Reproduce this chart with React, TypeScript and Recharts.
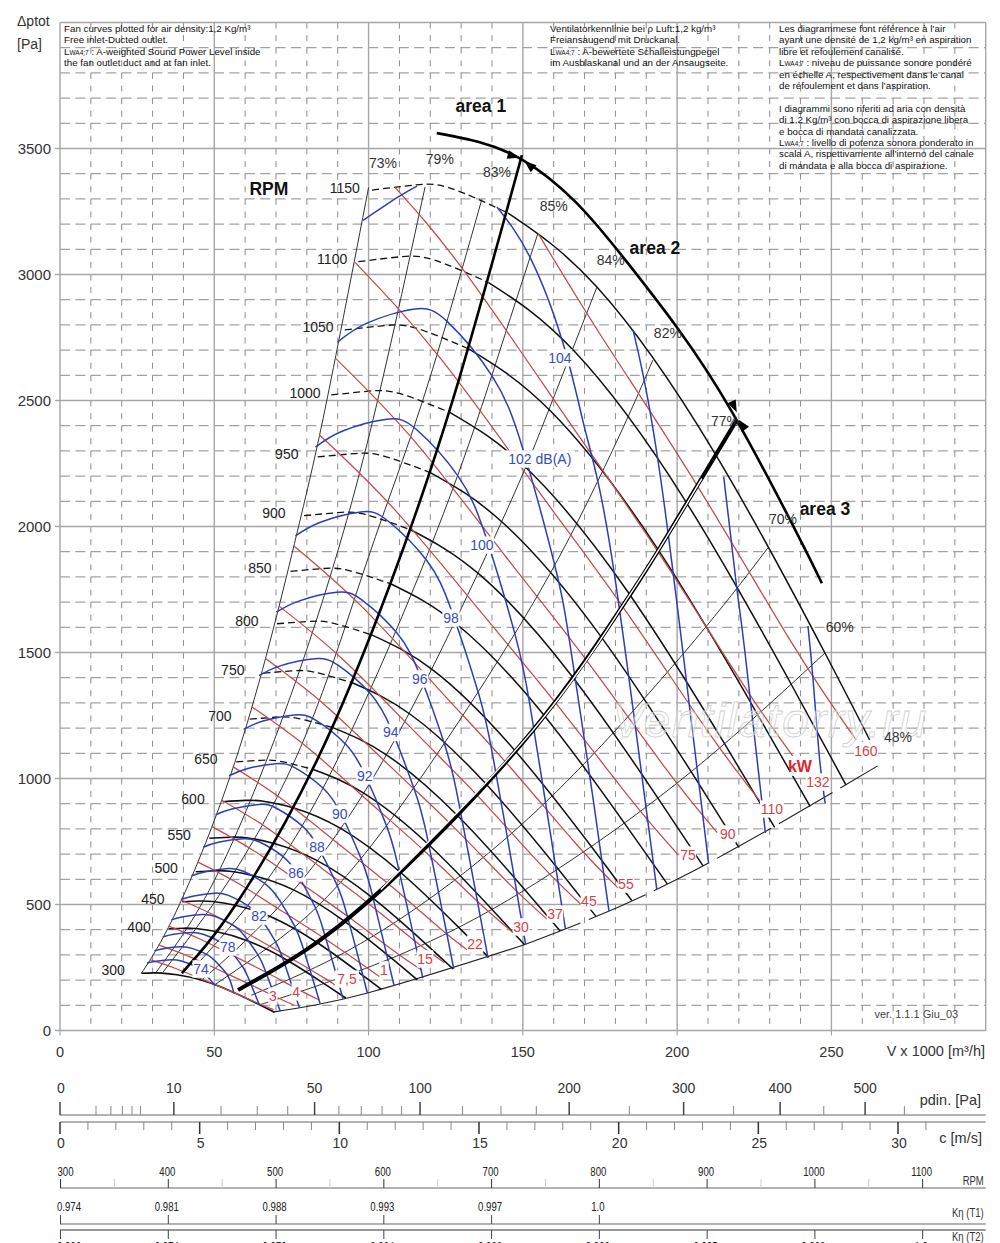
import React from 'react';
import { ComposedChart, LineChart, Line, Scatter, XAxis, YAxis, CartesianGrid } from 'recharts';

type Pt = number[];
const FONT = '"Liberation Sans", Arial, sans-serif';

// ---------- axis values ----------
const flowTicks = [0, 50, 100, 150, 200, 250];
const flowMajor = [50, 100, 150, 200, 250, 300];
const flowMinor = [10, 20, 30, 40, 60, 70, 80, 90, 110, 120, 130, 140, 160, 170, 180, 190, 210, 220, 230, 240, 260, 270, 280, 290];
const pressTicks = [0, 500, 1000, 1500, 2000, 2500, 3000, 3500];
const pressMajor = [500, 1000, 1500, 2000, 2500, 3000, 3500, 4000];
const pressMinor = [100, 200, 300, 400, 600, 700, 800, 900, 1100, 1200, 1300, 1400, 1600, 1700, 1800, 1900, 2100, 2200, 2300, 2400, 2600, 2700, 2800, 2900, 3100, 3200, 3300, 3400, 3600, 3700, 3800, 3900];

const pdinTicks = [0, 1, 2, 3, 4, 5, 10, 20, 30, 40, 50, 60, 70, 80, 90, 100, 125, 150, 175, 200, 250, 300, 350, 400, 450, 500, 550];
const pdinLabelled = [0, 10, 50, 100, 200, 300, 400, 500];
const speedTicks = [0, 1, 2, 3, 4, 5, 6, 7, 8, 9, 10, 11, 12, 13, 14, 15, 16, 17, 18, 19, 20, 21, 22, 23, 24, 25, 26, 27, 28, 29, 30, 31];
const speedLabelled = [0, 5, 10, 15, 20, 25, 30];
const rpmScaleTicks = [300, 350, 400, 450, 500, 550, 600, 650, 700, 750, 800, 850, 900, 950, 1000, 1050, 1100];
const rpmScaleLabelled = [300, 400, 500, 600, 700, 800, 900, 1000, 1100];
const t1Rpm = [300, 400, 500, 600, 700, 800];
const t1Labels = ['0.974', '0.981', '0.988', '0.993', '0.997', '1.0'];
const t2Rpm = [300, 400, 500, 600, 700, 800, 900, 1000, 1100];
const t2Labels = ['0.966', '0.974', '0.979', '0.984', '0.988', '0.992', '0.995', '0.998', '1.0'];

// ---------- fan speed curves: the first four points are the dashed stall side ----------
const rpm300: Pt[] = [[26.4, 227], [30, 228.5], [33, 227.7], [37.9, 221], [45.4, 201], [55.2, 157], [64.7, 102], [69.5, 72.6]];
const rpm400: Pt[] = [[35.2, 404], [40, 406], [44, 404.5], [50.5, 392.5], [60.5, 357], [73.6, 279], [86.2, 181], [92.6, 129]];
const rpm450: Pt[] = [[39.6, 511], [45, 514], [49.5, 512], [56.8, 497], [68.1, 452], [82.8, 353], [97, 229], [104.2, 163]];
const rpm500: Pt[] = [[44, 630], [50, 634], [55, 632], [63.1, 613], [75.7, 558], [92, 435], [107.8, 283], [115.8, 201]];
const rpm550: Pt[] = [[48.4, 763], [55, 767], [60.5, 765], [69.4, 742], [83.2, 675], [101.2, 527], [118.6, 343], [127.4, 244]];
const rpm600: Pt[] = [[52.7, 908], [60, 913], [65.9, 910], [75.8, 883], [90.8, 803], [110.4, 627], [129.3, 408], [138.9, 290]];
const rpm650: Pt[] = [[57.1, 1066], [65, 1072], [71.4, 1068], [82.1, 1036], [98.3, 943], [119.6, 736], [140.1, 479], [150.5, 341]];
const rpm700: Pt[] = [[61.5, 1236], [70, 1243], [76.9, 1239], [88.4, 1202], [105.9, 1093], [128.8, 853], [150.9, 555], [162.1, 395]];
const rpm750: Pt[] = [[65.9, 1418], [75, 1427], [82.4, 1422], [94.7, 1380], [113.5, 1255], [138, 979], [161.7, 637], [173.7, 453]];
const rpm800: Pt[] = [[70.3, 1614], [80, 1623], [87.9, 1618], [101, 1570], [121.1, 1428], [147.2, 1114], [172.5, 725], [185.3, 516]];
const rpm850: Pt[] = [[74.7, 1822], [85, 1833], [93.4, 1826], [107.3, 1772], [128.6, 1612], [156.4, 1258], [183.2, 818], [196.8, 582]];
const rpm900: Pt[] = [[79.1, 2043], [90, 2055], [98.9, 2048], [113.6, 1987], [136.2, 1807], [165.6, 1411], [194, 918], [208.4, 653]];
const rpm950: Pt[] = [[83.5, 2276], [95, 2289], [104.4, 2281], [120, 2214], [143.7, 2013], [174.8, 1572], [204.8, 1022], [220, 727]];
const rpm1000: Pt[] = [[87.9, 2522], [100, 2537], [109.9, 2528], [126.3, 2453], [151.3, 2230], [184, 1741], [215.6, 1133], [231.6, 806]];
const rpm1050: Pt[] = [[92.3, 2780], [105, 2797], [115.4, 2787], [132.6, 2704], [158.9, 2459], [193.2, 1920], [226.3, 1249], [243.1, 889]];
const rpm1100: Pt[] = [[96.7, 3051], [110, 3070], [120.9, 3059], [138.9, 2968], [166.4, 2699], [202.4, 2107], [237.1, 1371], [254.7, 975]];
const rpm1150: Pt[] = [[101.1, 3335], [115, 3355], [126.4, 3343], [145.2, 3244], [174, 2950], [211.6, 2303], [247.9, 1498], [262.4, 1153]];
const solidRpm = [rpm300, rpm400, rpm450, rpm500, rpm550, rpm600];
const stallRpm = [rpm650, rpm700, rpm750, rpm800, rpm850, rpm900, rpm950, rpm1000, rpm1050, rpm1100, rpm1150];

// ---------- power curves (kW) ----------
const kw160: Pt[] = [[154.9, 3164], [175.5, 2754], [206.2, 2168], [237.6, 1529], [258, 1153]];
const kw132: Pt[] = [[108.5, 3347], [131.2, 3010], [164.6, 2422], [193.4, 1907], [222.9, 1345], [242, 1014]];
const kw110: Pt[] = [[95.6, 3048], [123.5, 2664], [154.9, 2143], [182, 1688], [209.8, 1190], [227.7, 897]];
const kw90: Pt[] = [[89.4, 2666], [115.5, 2330], [144.8, 1875], [170.2, 1476], [196.2, 1041], [213, 785]];
const kw75: Pt[] = [[84.1, 2363], [108.6, 2065], [136.3, 1662], [160.1, 1308], [184.6, 923], [200.4, 696]];
const kw55: Pt[] = [[75.9, 1922], [98, 1680], [123, 1351], [144.5, 1064], [166.5, 751], [180.8, 566]];
const kw45: Pt[] = [[71, 1684], [91.7, 1472], [115.1, 1184], [135.2, 933], [155.8, 658], [169.2, 496]];
const kw37: Pt[] = [[66.5, 1477], [85.9, 1291], [107.8, 1039], [126.7, 818], [146, 577], [158.5, 435]];
const kw30: Pt[] = [[62.1, 1285], [80.2, 1123], [100.6, 903], [118.2, 711], [136.2, 502], [147.9, 378]];
const kw22: Pt[] = [[56, 1047], [72.3, 915], [90.7, 736], [106.6, 580], [122.8, 409], [133.3, 308]];
const kw18: Pt[] = [[52.3, 915], [67.6, 800], [84.8, 644], [99.6, 507], [114.8, 357], [124.6, 269]];
const kw15: Pt[] = [[49.3, 809], [63.6, 707], [79.8, 569], [93.8, 448], [108.1, 316], [117.4, 238]];
const kw11: Pt[] = [[44.7, 668], [57.7, 584], [72.4, 470], [85.1, 370], [98.1, 261], [103.7, 212]];
const kw75s: Pt[] = [[39.4, 517], [50.9, 452], [63.9, 363], [75, 286], [86.5, 202], [89, 180]];
const kw55s: Pt[] = [[35.2, 414], [45.5, 362], [57.1, 291], [67.1, 229], [77.3, 162], [83.9, 122]];
const kw4: Pt[] = [[31.9, 340], [41.2, 297], [51.7, 239], [60.7, 188], [70, 133], [76, 100]];
const kw3: Pt[] = [[29.1, 281], [37.5, 246], [47.1, 198], [55.3, 156], [63.7, 110], [69.2, 83]];
const redCurves = [kw160, kw132, kw110, kw90, kw75, kw55, kw45, kw37, kw30, kw22, kw18, kw15, kw11, kw75s, kw55s, kw4, kw3];

// ---------- sound power curves (dB(A)) ----------
const db110: Pt[] = [[242.4, 1605], [244, 1400], [246.2, 1073], [248, 900]];
const db108: Pt[] = [[215.1, 2197], [219.3, 1759], [222, 1499], [228.6, 784]];
const db106: Pt[] = [[185.7, 2780], [189.1, 2594], [195.4, 2126], [204.2, 1267], [210.2, 663]];
const db104a: Pt[] = [[98.2, 3215], [109.5, 3307], [115.7, 3351]];
const db104b: Pt[] = [[141.6, 3268], [152.3, 3069], [163, 2728], [169.4, 2422], [174, 2196], [179.8, 1800], [187.9, 1073], [193.4, 561]];
const db102: Pt[] = [[90, 2732], [99.5, 2807], [115, 2863], [125.7, 2811], [140.1, 2596], [150, 2308], [160.1, 1858], [165.4, 1523], [172.9, 908], [177.9, 475]];
const db100: Pt[] = [[82.8, 2315], [91.6, 2379], [105.9, 2426], [115.7, 2383], [129, 2200], [138.1, 1956], [147.4, 1575], [152.3, 1291], [159.1, 769], [163.8, 402]];
const db98: Pt[] = [[76.3, 1963], [84.4, 2017], [97.5, 2058], [106.5, 2020], [118.8, 1866], [127.1, 1659], [135.7, 1335], [140.2, 1094], [146.6, 652], [150.9, 341]];
const db96: Pt[] = [[70.1, 1660], [77.6, 1705], [89.6, 1739], [97.9, 1708], [109.2, 1577], [116.9, 1402], [124.8, 1129], [128.9, 925], [134.7, 551], [138.7, 288]];
const db94: Pt[] = [[64.5, 1408], [71.4, 1447], [82.5, 1475], [90.2, 1449], [100.5, 1338], [107.6, 1189], [114.8, 957], [118.7, 785], [124, 468], [127.6, 245]];
const db92: Pt[] = [[59.5, 1195], [65.8, 1228], [76, 1252], [83.1, 1230], [92.6, 1136], [99.1, 1009], [105.8, 813], [109.3, 666], [114.2, 397], [117.6, 208]];
const db90: Pt[] = [[54.8, 1011], [60.6, 1039], [70, 1059], [76.5, 1040], [85.3, 961], [91.3, 854], [97.4, 687], [100.7, 563], [105.2, 336], [108.3, 176]];
const db88: Pt[] = [[50.4, 856], [55.7, 879], [64.4, 897], [70.3, 881], [78.4, 813], [83.9, 723], [89.6, 582], [92.6, 477], [96.8, 284], [99.6, 149]];
const db86: Pt[] = [[46.4, 727], [51.3, 747], [59.3, 761], [64.7, 748], [72.2, 691], [77.3, 614], [82.5, 494], [85.2, 405], [89.1, 241], [91.7, 126]];
const db84: Pt[] = [[42.6, 614], [47.2, 630], [54.5, 643], [59.6, 631], [66.4, 583], [71.1, 518], [75.9, 417], [78.4, 342], [81.9, 204], [84.3, 107]];
const db82: Pt[] = [[39.2, 520], [43.4, 534], [50.1, 545], [54.8, 535], [61.1, 494], [65.4, 439], [69.8, 354], [72.1, 290], [75.3, 173], [77.6, 90]];
const db80: Pt[] = [[36.1, 439], [39.9, 451], [46.1, 460], [50.4, 452], [56.2, 417], [60.1, 371], [64.2, 299], [66.3, 245], [69.3, 146], [71.4, 76]];
const db78: Pt[] = [[33.3, 371], [36.8, 382], [42.5, 389], [46.4, 382], [51.8, 353], [55.4, 314], [59.2, 253], [61.1, 207], [63.9, 123], [64.5, 104]];
const db76: Pt[] = [[30.6, 316], [33.9, 325], [39.1, 332], [42.8, 326], [47.7, 301], [51, 267], [54.5, 215], [56.3, 150]];
const db74: Pt[] = [[28.2, 268], [31.2, 275], [36, 281], [39.3, 276], [43.9, 255], [46.9, 226], [50.3, 178]];
const blueCurves = [db110, db108, db106, db104a, db104b, db102, db100, db98, db96, db94, db92, db90, db88, db86, db84, db82, db80, db78, db76, db74];

// ---------- efficiency / system lines ----------
const eff73: Pt[] = [[26.4, 227], [38.9, 505], [59.3, 1165], [76.8, 1974], [86.5, 2502], [100, 3345]];
const eff79: Pt[] = [[31.2, 232], [50, 595], [70.3, 1180], [86.5, 1760], [101.4, 2422], [118.3, 3347]];
const eff83: Pt[] = [[33.4, 232], [55, 600], [79.4, 1165], [100, 1880], [117.6, 2502], [136.7, 3298]];
const eff85: Pt[] = [[45, 270], [65, 562], [90, 1077], [122.6, 1998], [142.6, 2700], [154.9, 3164]];
const eff84: Pt[] = [[46.3, 205], [59.3, 347], [81.6, 645], [111.1, 1212], [142.6, 2005], [157.1, 2422], [174, 2950]];
const eff82: Pt[] = [[50.2, 182], [70, 353], [100, 720], [142.6, 1480], [167.5, 2013], [183.6, 2422], [192.1, 2660]];
const eff70: Pt[] = [[62, 140], [90, 295], [120, 525], [150, 822], [179.2, 1180], [209, 1597], [229.4, 1915]];
const eff60: Pt[] = [[65, 103], [76.8, 150], [107.6, 288], [148, 538], [200, 982], [247.9, 1498]];
const effLines = [eff73, eff79, eff83, eff85, eff84, eff82, eff70, eff60];
const bound48a: Pt[] = [[69, 73], [100, 150], [150, 338]];
const bound48b: Pt[] = [[150, 338], [200, 600], [265, 1050]];

// ---------- area boundaries ----------
const area1: Pt[] = [[39.5, 228], [57.3, 506], [83.3, 1073], [106.9, 1768], [127.3, 2502], [149.7, 3474]];
const area2: Pt[] = [[57.7, 161], [80, 322], [110, 625], [153.3, 1192], [181.4, 1668], [193.4, 1895], [219.3, 2422]];
const area2Core: Pt[] = [[104, 560], [153.3, 1192], [181.4, 1668], [193.4, 1895], [208, 2190]];
const outer: Pt[] = [[122.1, 3561], [136, 3525], [150, 3454], [166.9, 3290], [183.7, 3050], [199.9, 2791], [218, 2450], [238.8, 1974], [246.9, 1775]];

// ---------- labels: [flow, pressure, text] ----------
const blueLabels: any[] = [[45.7, 244, '74'], [54.4, 331, '78'], [64.5, 454, '82'], [76.5, 625, '86'], [83.3, 728, '88'], [90.7, 859, '90'], [98.8, 1010, '92'], [107.2, 1183, '94'], [116.6, 1395, '96'], [126.7, 1637, '98'], [136.7, 1926, '100'], [155.5, 2268, '102 dB(A)'], [162, 2669, '104']];
const redLabels: any[] = [[69, 137, '3'], [76.5, 153, '4'], [93, 204, '7,5'], [105, 240, '1'], [118.3, 284, '15'], [134.5, 343, '22'], [149.4, 411, '30'], [160.4, 462, '37'], [171.4, 514, '45'], [183.4, 581, '55'], [203.5, 696, '75'], [216.4, 780, '90'], [230.7, 879, '110'], [245.6, 986, '132'], [261.2, 1110, '160']];
const rpmLabels: any[] = [[17.2, 240, '300'], [25.6, 410, '400'], [30.1, 521, '450'], [34.4, 644, '500'], [38.6, 775, '550'], [43.1, 918, '600'], [47.3, 1077, '650'], [51.8, 1247, '700'], [56, 1430, '750'], [60.6, 1625, '800'], [64.8, 1835, '850'], [69.3, 2054, '900'], [73.5, 2288, '950'], [79.4, 2530, '1000'], [83.6, 2792, '1050'], [88.2, 3062, '1100'], [92.3, 3343, '1150']];
const effLabels: any[] = [[104.7, 3442, '73%'], [123.1, 3458, '79%'], [141.6, 3406, '83%'], [160, 3272, '85%'], [178.5, 3057, '84%'], [197, 2768, '82%'], [215.5, 2419, '77%'], [234.3, 2030, '70%'], [252.7, 1601, '60%'], [271.6, 1165, '48%']];
const boldLabels: any[] = [[136.4, 3668, 'area 1'], [192.8, 3105, 'area 2'], [247.9, 2069, 'area 3'], [67.7, 3339, 'RPM']];
const kwLabel: any[] = [[239.8, 1050, 'kW']];
const verLabel: any[] = [[277.5, 67, 'ver. 1.1.1 Giu_03']];
const markLabel: any[] = [[230, 1233, 'Ventilatorry.ru']];
// arrowheads: [flow, pressure, pointing angle]
const arrows: any[] = [[147, 3470, 15], [152, 3435, 220], [218.5, 2475, 65], [221, 2405, 235]];

// ---------- note blocks ----------
const noteEn = ['Fan curves plotted for air density:1,2 Kg/m³', 'Free inlet-Ducted outlet.', '@ : A-weighted Sound Power Level inside', 'the fan outlet duct and at fan inlet.'];
const noteDe = ['Ventilatorkennlinie bei ρ Luft:1,2 kg/m³', 'Freiansaugend mit Druckanal.', '@ : A-bewertete Schalleistungpegel', 'im Ausblaskanal und an der Ansaugseite.'];
const noteFr = ['Les diagrammese font référence à l’air', 'ayant une densité de 1,2 kg/m³ en aspiration', 'libre et refoulement canalisé.', '@ : niveau de puissance sonore pondéré', 'en échelle A, respectivement dans le canal', 'de réfoulement et dans l’aspiration.', '', 'I diagrammi sono riferiti ad aria con densità', 'di 1,2 Kg/m³ con bocca di aspirazione libera', 'e bocca di mandata canalizzata.', '@ : livello di potenza sonora ponderato in', 'scala A, rispettivamente all’interno del canale', 'di mandata e alla bocca di aspirazione.'];

const pts = (a: Pt[]) => a.map(([x, y]) => ({ x, y }));
const labs = (a: any[]) => a.map(([x, y, t]) => ({ x, y, t }));

const curve = (d: Pt[], key: string, stroke: string, width: number, dash?: string) => (
  <Line key={key} data={pts(d)} dataKey="y" type="natural" stroke={stroke} strokeWidth={width} strokeDasharray={dash} dot={false} activeDot={false} isAnimationActive={false} legendType="none" />
);

const textShape = (o: { size: number; fill: string; bg?: boolean; weight?: string; stroke?: string; italic?: boolean; spacing?: number; charW?: number }) => (p: any) => {
  const t = p.payload?.t ?? p.t;
  const w = t.length * o.size * (o.charW ?? 0.56) + 2;
  return (
    <g>
      {o.bg && <rect x={p.cx - w / 2} y={p.cy - o.size * 0.62} width={w} height={o.size * 1.24} fill="#fff" />}
      <text x={p.cx} y={p.cy} dy="0.36em" textAnchor="middle" fontFamily={FONT} fontSize={o.size} fontWeight={o.weight} fontStyle={o.italic ? 'italic' : undefined} letterSpacing={o.spacing} fill={o.fill} stroke={o.stroke} strokeWidth={o.stroke ? 0.8 : undefined}>{t}</text>
    </g>
  );
};

const arrowShape = (p: any) => {
  const a = p.payload?.a ?? p.a;
  return <polygon points="6,0 -6,-4.5 -6,4.5" fill="#000" transform={`translate(${p.cx},${p.cy}) rotate(${a})`} />;
};

const labelSeries = (key: string, a: any[], shape: any) => (
  <Scatter key={key} data={labs(a)} shape={shape} isAnimationActive={false} legendType="none" />
);

const Scale = ({ top, domain, scale, ticks, stroke, render }: any) => (
  <div style={{ position: 'absolute', left: 0, top: top - 40, width: 1000, height: 80 }}>
    <LineChart width={1000} height={80} data={ticks.map((x: number) => ({ x, v: 0.5 }))} margin={{ left: 60, right: 14.3, top: 0, bottom: 0 }}>
      <XAxis type="number" dataKey="x" scale={scale ?? 'linear'} domain={domain} ticks={ticks} interval={0} height={40} tickLine={false} tickSize={0} tick={render} axisLine={{ stroke: stroke ?? '#999', strokeWidth: 1.4 }} allowDataOverflow />
      <YAxis hide domain={[0, 1]} width={0} />
      <Line dataKey="v" stroke="none" dot={false} isAnimationActive={false} legendType="none" />
    </LineChart>
  </div>
);

const AX = 40;
const pdinTick = (p: any) => {
  const big = pdinLabelled.includes(p.payload.value);
  return (
    <g>
      <line x1={p.x} x2={p.x} y1={AX} y2={AX - (big ? 13 : 9)} stroke={big ? '#444' : '#888'} strokeWidth={big ? 1.5 : 1} />
      {big && <text x={p.x + (p.payload.value === 0 ? 1 : 0)} y={AX - 22} textAnchor="middle" fontFamily={FONT} fontSize={14} fill="#333">{p.payload.value}</text>}
    </g>
  );
};
const speedTick = (p: any) => {
  const big = speedLabelled.includes(p.payload.value);
  return (
    <g>
      <line x1={p.x} x2={p.x} y1={AX} y2={AX + (big ? 12 : 8)} stroke={big ? '#333' : '#888'} strokeWidth={big ? 1.5 : 1} />
      {big && <text x={p.x + 1} y={AX + 26} textAnchor="middle" fontFamily={FONT} fontSize={14} fill="#333">{p.payload.value}</text>}
    </g>
  );
};
const narrowText = (x: number, y: number, t: string) => (
  <text transform={`translate(${x},${y}) scale(0.74,1)`} textAnchor="middle" fontFamily={FONT} fontSize={13} fill="#222">{t}</text>
);
const rpmTick = (p: any) => {
  const big = rpmScaleLabelled.includes(p.payload.value);
  return (
    <g>
      <line x1={p.x} x2={p.x} y1={AX} y2={AX - 9} stroke={big ? '#333' : '#ccc'} strokeWidth={1} />
      {big && narrowText(p.x + (p.payload.value === 300 ? 5 : -1), AX - 12, String(p.payload.value))}
    </g>
  );
};
const t1Tick = (p: any) => (
  <g>
    <line x1={p.x} x2={p.x} y1={AX} y2={AX - 9} stroke="#444" strokeWidth={1} />
    {narrowText(p.x + (p.payload.value === 300 ? 8.5 : -1.5), AX - 13, t1Labels[t1Rpm.indexOf(p.payload.value)])}
  </g>
);
const t2Tick = (p: any) => (
  <g>
    <line x1={p.x} x2={p.x} y1={AX} y2={AX + 9} stroke="#444" strokeWidth={1} />
    {narrowText(p.x + (p.payload.value === 300 ? 8.5 : -1.5), AX + 21, t2Labels[t2Rpm.indexOf(p.payload.value)])}
  </g>
);

const NoteBlock = ({ x, lines }: { x: number; lines: string[] }) => (
  <div style={{ position: 'absolute', left: x, top: 23, fontFamily: FONT, fontSize: 9.75, lineHeight: '11.4px', color: '#111', whiteSpace: 'nowrap' }}>
    {lines.map((l, i) => (
      <div key={i} style={{ height: 11.4 }}>
        {l.startsWith('@') ? <span>L<span style={{ fontSize: 6.5 }}>WA4;7</span>{l.slice(1)}</span> : l}
      </div>
    ))}
  </div>
);

const Caption = ({ right, y, size, squeeze, children }: any) => (
  <div style={{ position: 'absolute', right: 1000 - right, top: y - 10, height: 20, lineHeight: '20px', fontFamily: FONT, fontSize: size, color: '#333', whiteSpace: 'nowrap', transform: squeeze ? 'scaleX(0.76)' : undefined, transformOrigin: 'right center' }}>{children}</div>
);

export default function App() {
  return (
    <div style={{ position: 'absolute', left: 0, top: 0, width: 1000, height: 1243, overflow: 'hidden', background: '#fff' }}>
      <div style={{ position: 'absolute', left: 0, top: 0 }}>
        <ComposedChart width={1000} height={1243} margin={{ left: 0, right: 14.3, top: 22.5, bottom: 0 }}>
          <CartesianGrid vertical={false} horizontalValues={pressMinor} stroke="#8c8c8c" strokeWidth={1} strokeDasharray="10 5.4" />
          <CartesianGrid horizontal={false} verticalValues={flowMinor} stroke="#8c8c8c" strokeWidth={1} strokeDasharray="6 6.6" />
          <CartesianGrid vertical={false} horizontalValues={pressMajor} stroke="#a6a6a6" strokeWidth={1.4} />
          <CartesianGrid horizontal={false} verticalValues={flowMajor} stroke="#a6a6a6" strokeWidth={1.4} />
          <XAxis type="number" dataKey="x" domain={[0, 300]} ticks={flowTicks} interval={0} height={212.5} tickSize={5} tickMargin={11} tick={{ fontSize: 14.5, fill: '#333', fontFamily: FONT }} tickLine={{ stroke: '#999' }} axisLine={{ stroke: '#a6a6a6', strokeWidth: 1.4 }} allowDataOverflow />
          <YAxis type="number" dataKey="y" domain={[0, 4000]} ticks={pressTicks} interval={0} width={60} tickSize={5} tickMargin={4} tick={{ fontSize: 15, fill: '#333', fontFamily: FONT }} tickLine={{ stroke: '#a6a6a6', strokeWidth: 1.4 }} axisLine={{ stroke: '#a6a6a6', strokeWidth: 1.4 }} allowDataOverflow />

          {effLines.map((d, i) => curve(d, `eff${i}`, '#333', 1))}
          {curve(bound48a, 'b48a', '#222', 1.1)}
          {curve(bound48b, 'b48b', '#222', 1.1, '62 9')}

          {solidRpm.map((d, i) => curve(d, `rs${i}`, '#111', 1.6))}
          {stallRpm.map((d, i) => curve(d.slice(0, 4), `rd${i}`, '#111', 1.3, '7 4'))}
          {stallRpm.map((d, i) => curve(d.slice(3), `rt${i}`, '#111', 1.5))}

          {redCurves.map((d, i) => curve(d, `kw${i}`, '#c24a4c', 1.25))}
          {blueCurves.map((d, i) => curve(d, `db${i}`, '#2c3fb5', 1.5))}

          {curve(area1, 'area1', '#000', 2.6)}
          {curve(area2, 'area2', '#000', 4)}
          {curve(area2Core, 'area2c', '#fff', 1.4)}
          {curve(outer, 'outer', '#000', 2.6)}

          <Scatter data={arrows.map(([x, y, a]) => ({ x, y, a }))} shape={arrowShape} isAnimationActive={false} legendType="none" />

          {labelSeries('mark', markLabel, textShape({ size: 48, fill: 'rgba(255,255,255,0.35)', stroke: '#cfcfcf', italic: true, spacing: 1.5 }))}
          {labelSeries('blue', blueLabels, textShape({ size: 14, fill: '#3a4cc0', bg: true, charW: 0.54 }))}
          {labelSeries('red', redLabels, textShape({ size: 14, fill: '#d63f48', bg: true, charW: 0.52 }))}
          {labelSeries('rpm', rpmLabels, textShape({ size: 14, fill: '#222' }))}
          {labelSeries('eff', effLabels, textShape({ size: 14, fill: '#333' }))}
          {labelSeries('bold', boldLabels, textShape({ size: 17.5, fill: '#111', weight: 'bold' }))}
          {labelSeries('kw', kwLabel, textShape({ size: 16, fill: '#e02430', weight: 'bold', bg: true }))}
          {labelSeries('ver', verLabel, textShape({ size: 11, fill: '#444' }))}
        </ComposedChart>
      </div>

      <NoteBlock x={64} lines={noteEn} />
      <NoteBlock x={550} lines={noteDe} />
      <NoteBlock x={779} lines={noteFr} />

      <div style={{ position: 'absolute', left: 17, top: 11, height: 20, lineHeight: '20px', fontFamily: FONT, fontSize: 14, color: '#333' }}>Δptot</div>
      <div style={{ position: 'absolute', left: 17, top: 34, height: 20, lineHeight: '20px', fontFamily: FONT, fontSize: 14, color: '#333' }}>[Pa]</div>

      <Scale top={1115} domain={[0, 661]} scale="sqrt" ticks={pdinTicks} render={pdinTick} />
      <Scale top={1122} domain={[0, 33.14]} ticks={speedTicks} render={speedTick} />
      <Scale top={1188} domain={[299.5, 1158.5]} ticks={rpmScaleTicks} render={rpmTick} />
      <Scale top={1224} domain={[299.5, 1158.5]} ticks={t1Rpm} render={t1Tick} />
      <Scale top={1229.7} domain={[299.5, 1158.5]} ticks={t2Rpm} render={t2Tick} stroke="#777" />

      <Caption right={985} y={1051} size={14.5}>V x 1000 [m³/h]</Caption>
      <Caption right={981} y={1100} size={14.5}>pdin. [Pa]</Caption>
      <Caption right={982} y={1138} size={14.5}>c [m/s]</Caption>
      <Caption right={984} y={1181} size={12.5} squeeze>RPM</Caption>
      <Caption right={984} y={1213} size={12.5} squeeze>Kη (T1)</Caption>
      <Caption right={984} y={1237} size={12.5} squeeze>Kη (T2)</Caption>
    </div>
  );
}
